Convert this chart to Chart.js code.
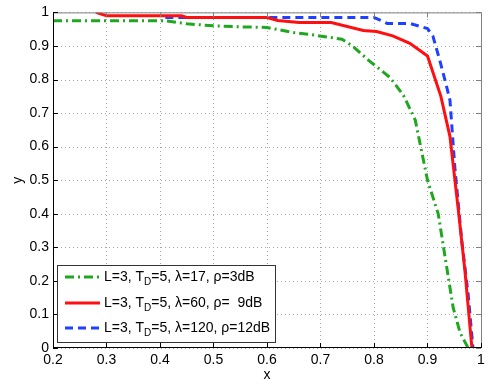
<!DOCTYPE html>
<html>
<head>
<meta charset="utf-8">
<script src="https://cdn.jsdelivr.net/npm/chart.js@4/dist/chart.umd.min.js"></script>
<style>
  html, body { margin: 0; padding: 0; background: #fff; }
  canvas { display: block; }
</style>
</head>
<body>
<canvas id="chart" width="491" height="387"></canvas>
<script>
//Data
var green_x = [0.2, 0.41, 0.45, 0.5, 0.55, 0.6, 0.65, 0.69, 0.74, 0.76, 0.79, 0.83, 0.855, 0.877, 0.9, 0.92, 0.936, 0.948, 0.961, 0.976];
var green_y = [0.975, 0.975, 0.966, 0.96, 0.957, 0.955, 0.94, 0.932, 0.92, 0.90, 0.857, 0.806, 0.753, 0.68, 0.5, 0.40, 0.24, 0.12, 0.045, 0];

var red_x = [0.28, 0.3, 0.44, 0.45, 0.6, 0.62, 0.66, 0.72, 0.78, 0.805, 0.835, 0.867, 0.9, 0.925, 0.942, 0.957, 0.97, 0.983];
var red_y = [1.0, 0.99, 0.99, 0.985, 0.985, 0.976, 0.97, 0.97, 0.946, 0.943, 0.93, 0.908, 0.87, 0.75, 0.63, 0.42, 0.23, 0];

var blue_x = [0.41, 0.6, 0.8, 0.825, 0.867, 0.9, 0.91, 0.923, 0.936, 0.942, 0.951, 0.964, 0.976, 0.985];
var blue_y = [0.985, 0.985, 0.985, 0.967, 0.967, 0.952, 0.93, 0.857, 0.777, 0.738, 0.54, 0.32, 0.16, 0];

//Legend text: [before subscript, subscript, after subscript]
var legend_labels = [
	['L=3, T', 'D', '=5, \u03bb=17, \u03c1=3dB'],
	['L=3, T', 'D', '=5, \u03bb=60, \u03c1=  9dB'],
	['L=3, T', 'D', '=5, \u03bb=120, \u03c1=12dB']
];

var x_label = 'x';
var y_label = 'y';

function toPoints(xv, yv) {
	var p = [];
	for (var i = 0; i < xv.length; i++) {
		p.push({x: xv[i], y: yv[i]});
	}
	return p;
}

function fmt(v) {
	var r = Math.round(v * 10) / 10;
	if (r === 0 || r === 1) return String(r);
	return r.toFixed(1);
}

var FONT = 'Liberation Sans, Arial, Helvetica, sans-serif';

//Box, dotted grid, inward ticks and legend, drawn like the original
var framePlugin = {
	id: 'frame',
	beforeDatasetsDraw: function(chart) {
		var ctx = chart.ctx;
		var a = chart.chartArea;
		var xs = chart.scales.x, ys = chart.scales.y;
		ctx.save();
		ctx.strokeStyle = '#a8a8a8';
		ctx.lineWidth = 1;
		ctx.setLineDash([1, 3]);
		ctx.beginPath();
		xs.ticks.forEach(function(t) {
			var px = Math.round(xs.getPixelForValue(t.value)) + 0.5;
			ctx.moveTo(px, a.bottom);
			ctx.lineTo(px, a.top);
		});
		ys.ticks.forEach(function(t) {
			var py = Math.round(ys.getPixelForValue(t.value)) + 0.5;
			ctx.moveTo(a.left, py);
			ctx.lineTo(a.right, py);
		});
		ctx.stroke();
		ctx.restore();
	},
	afterDatasetsDraw: function(chart) {
		var ctx = chart.ctx;
		var a = chart.chartArea;
		var xs = chart.scales.x, ys = chart.scales.y;
		ctx.save();
		ctx.lineWidth = 1;
		//top and right edges
		ctx.strokeStyle = '#808080';
		ctx.beginPath();
		ctx.moveTo(a.left, a.top + 0.5);
		ctx.lineTo(a.right + 0.5, a.top + 0.5);
		ctx.lineTo(a.right + 0.5, a.bottom);
		ctx.stroke();
		//inward ticks on top/right
		ctx.beginPath();
		xs.ticks.forEach(function(t) {
			var px = Math.round(xs.getPixelForValue(t.value)) + 0.5;
			ctx.moveTo(px, a.top);
			ctx.lineTo(px, a.top + 5);
		});
		ys.ticks.forEach(function(t) {
			var py = Math.round(ys.getPixelForValue(t.value)) + 0.5;
			ctx.moveTo(a.right, py);
			ctx.lineTo(a.right - 5, py);
		});
		ctx.stroke();
		//left and bottom axes
		ctx.strokeStyle = '#000';
		ctx.beginPath();
		ctx.moveTo(a.left + 0.5, a.top);
		ctx.lineTo(a.left + 0.5, a.bottom - 0.5);
		ctx.lineTo(a.right + 1, a.bottom - 0.5);
		ctx.stroke();
		ctx.beginPath();
		xs.ticks.forEach(function(t) {
			var px = Math.round(xs.getPixelForValue(t.value)) + 0.5;
			ctx.moveTo(px, a.bottom);
			ctx.lineTo(px, a.bottom - 5);
		});
		ys.ticks.forEach(function(t) {
			var py = Math.round(ys.getPixelForValue(t.value)) + 0.5;
			ctx.moveTo(a.left, py);
			ctx.lineTo(a.left + 5, py);
		});
		ctx.stroke();

		//legend box
		var lx = 57.5, ly = 265.5, lw = 218, lh = 77;
		ctx.fillStyle = '#fff';
		ctx.fillRect(lx, ly, lw, lh);
		ctx.strokeStyle = '#333';
		ctx.strokeRect(lx, ly, lw, lh);
		var rows = [277, 303, 328];
		chart.data.datasets.forEach(function(ds, i) {
			var y = rows[i];
			ctx.strokeStyle = ds.borderColor;
			ctx.lineWidth = ds.borderWidth;
			ctx.setLineDash(ds.borderDash || []);
			ctx.beginPath();
			ctx.moveTo(65, y);
			ctx.lineTo(100, y);
			ctx.stroke();
			ctx.setLineDash([]);
			var parts = legend_labels[i];
			ctx.fillStyle = '#000';
			ctx.textBaseline = 'middle';
			ctx.textAlign = 'left';
			ctx.font = '14px ' + FONT;
			var tx = 104;
			ctx.fillText(parts[0], tx, y);
			tx += ctx.measureText(parts[0]).width;
			ctx.font = '10px ' + FONT;
			ctx.fillText(parts[1], tx, y + 5);
			tx += ctx.measureText(parts[1]).width;
			ctx.font = '14px ' + FONT;
			ctx.fillText(parts[2], tx, y);
		});
		ctx.restore();
	}
};

new Chart(document.getElementById('chart'), {
	type: 'line',
	data: {
		datasets: [{
			data: toPoints(green_x, green_y),
			borderColor: '#1fa81f',
			borderWidth: 3,
			borderDash: [9, 4, 2, 4],
			pointRadius: 0,
			tension: 0,
			fill: false
		}, {
			data: toPoints(red_x, red_y),
			borderColor: '#ff1010',
			borderWidth: 3,
			pointRadius: 0,
			tension: 0,
			fill: false
		}, {
			data: toPoints(blue_x, blue_y),
			borderColor: '#2040ff',
			borderWidth: 3,
			borderDash: [8, 5],
			pointRadius: 0,
			tension: 0,
			fill: false
		}]
	},
	options: {
		responsive: false,
		animation: false,
		layout: {
			padding: {top: 12, right: 10, left: 0, bottom: 0}
		},
		plugins: {
			legend: {display: false},
			tooltip: {enabled: false}
		},
		scales: {
			x: {
				type: 'linear',
				min: 0.2,
				max: 1,
				afterFit: function(s) { s.height = 39; },
				ticks: {
					stepSize: 0.1,
					padding: 4,
					color: '#000',
					font: {family: FONT, size: 14},
					callback: fmt
				},
				grid: {display: false, drawTicks: false},
				border: {display: false},
				title: {
					display: true,
					text: x_label,
					color: '#000',
					font: {family: FONT, size: 14},
					padding: {top: 0, bottom: 3}
				}
			},
			y: {
				min: 0,
				max: 1,
				afterFit: function(s) { s.width = 53; },
				ticks: {
					stepSize: 0.1,
					padding: 4,
					color: '#000',
					font: {family: FONT, size: 14},
					callback: fmt
				},
				grid: {display: false, drawTicks: false},
				border: {display: false},
				title: {
					display: true,
					text: y_label,
					color: '#000',
					font: {family: FONT, size: 14},
					padding: {top: 10, bottom: 0}
				}
			}
		}
	},
	plugins: [framePlugin]
});
</script>
</body>
</html>
